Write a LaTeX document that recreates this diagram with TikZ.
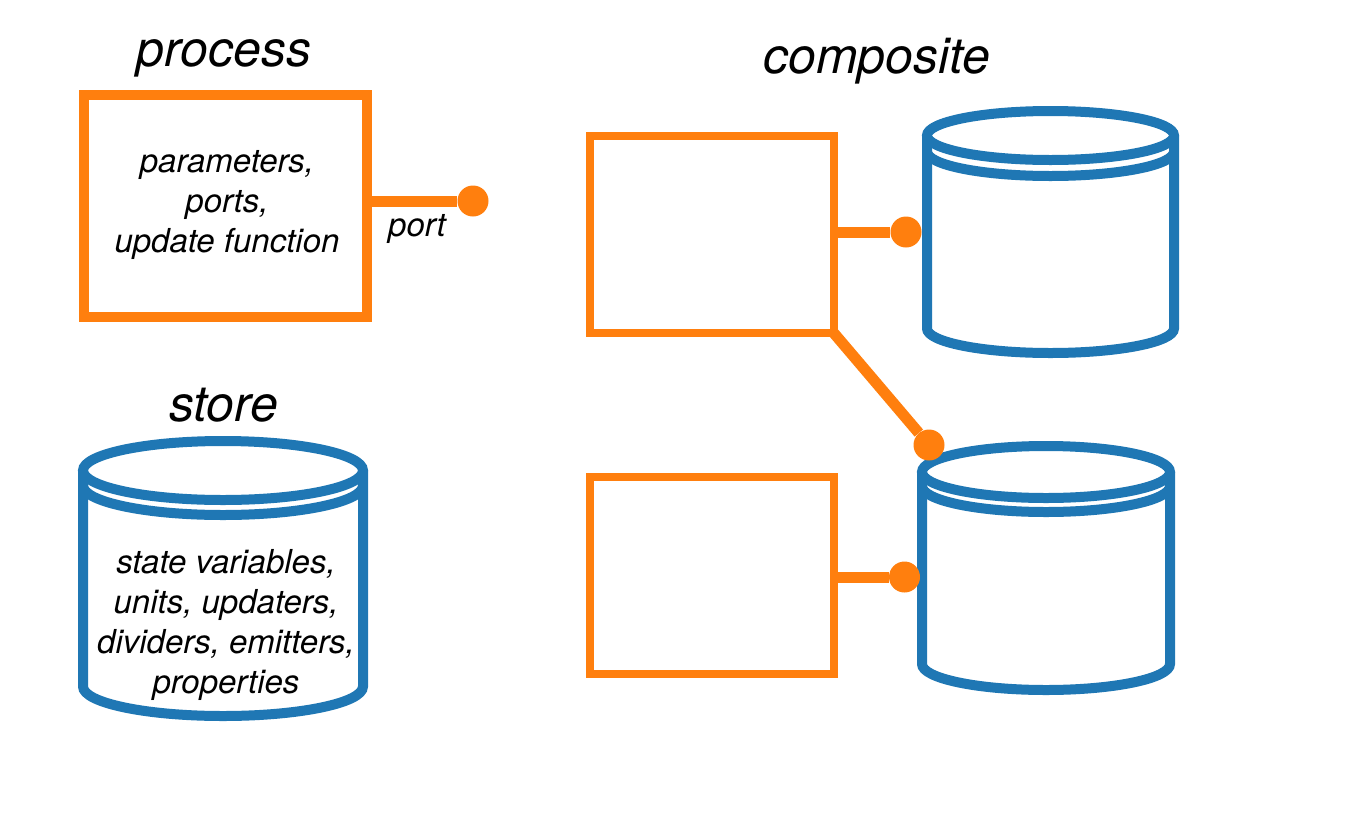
\documentclass[tikz,border=0pt]{standalone}
\usepackage{fontspec}
\setmainfont{TeX Gyre Heros}
\usepackage{tikz}
\usetikzlibrary{shapes, positioning}
\definecolor{procorange}{HTML}{FF7F0E}
\definecolor{storeblue}{HTML}{1F77B4}
\tikzstyle{procbox} = [draw=procorange, line width=10pt, rectangle, minimum width=283.5pt, minimum height=221.5pt, outer sep=0pt]
\tikzstyle{compbox} = [draw=procorange, line width=8pt, rectangle, minimum width=244pt, minimum height=197pt, outer sep=0pt]
\tikzstyle{portline} = [draw=procorange, line width=11pt]
\tikzstyle{portdot} = [circle, fill=procorange, inner sep=0pt, minimum size=31pt]
\tikzstyle{storeline} = [draw=storeblue, line width=10pt]
\tikzstyle{title} = [font=\fontsize{50}{56}\selectfont\itshape]
\tikzstyle{body} = [font=\fontsize{33}{40}\selectfont\itshape, align=center]
% cylinder: centre x, top y, bottom y, x radius, y radius, lip offset
\newcommand{\drawstore}[6]{%
  \filldraw[storeline, fill=white] (#1-#4,-#2) -- (#1-#4,-#3)
    arc[start angle=180, end angle=360, x radius=#4, y radius=#5] -- (#1+#4,-#2);
  \draw[storeline] (#1,-#2) ellipse[x radius=#4, y radius=#5];
  \draw[storeline] (#1-#4,-#2-#6) arc[start angle=180, end angle=360, x radius=#4, y radius=#5];
}
\begin{document}
\begin{tikzpicture}[x=1pt, y=1pt]
    \useasboundingbox (0,0) rectangle (1350,-825);
    % titles
    \node [title] (proctitle) at (224,-58) {process};
    \node [title] (storetitle) at (224,-405) {store};
    \node [title] (comptitle) at (877,-61) {composite};

    % single process with its port
    \node [procbox] (proc) at (225.25,-205.75) {};
    \node [body] (proctext) at (227,-205) {parameters,\\ports,\\update function};
    \node [portdot] (pdot) at (473,-201) {};
    \node [body] (portlabel) at (417,-229) {port};
    \draw[portline] (proc.east |- pdot) -- (pdot);

    % single store
    \drawstore{223}{470.5}{686.5}{140}{29.5}{15}
    \node [body] (storetext) at (226,-625) {state variables,\\units, updaters,\\dividers, emitters,\\properties};

    % composite: two processes, two stores
    \node [compbox] (ctop) at (712,-234.75) {};
    \node [compbox] (cbot) at (712,-575.75) {};
    \drawstore{1050.5}{135.5}{328.5}{123.5}{24.5}{16}
    \drawstore{1046}{472}{664}{124}{26}{14}
    \node [portdot] (dtop) at (906,-232) {};
    \node [portdot] (dmid) at (929,-445) {};
    \node [portdot] (dbot) at (904.5,-577) {};

    \draw[portline] (ctop.east |- dtop) -- (dtop);
    \draw[portline] (ctop.south east) -- (dmid);
    \draw[portline] (cbot.east |- dbot) -- (dbot);
\end{tikzpicture}
\end{document}
